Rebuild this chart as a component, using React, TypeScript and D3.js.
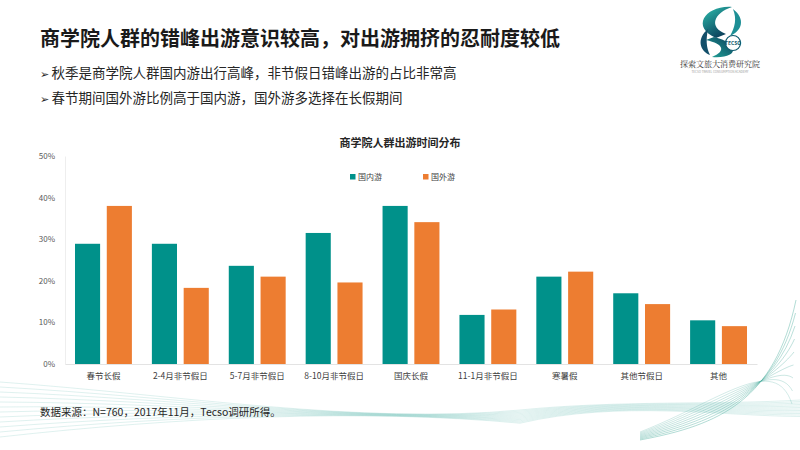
import { useEffect, useRef } from 'react'
import * as d3 from 'd3'

const W = 800, H = 450
const M = { top: 156, right: 43, bottom: 86, left: 65 }

const categories = ['春节长假', '2-4月非节假日', '5-7月非节假日', '8-10月非节假日', '国庆长假', '11-1月非节假日', '寒暑假', '其他节假日', '其他']
const domestic = [28.9, 28.9, 23.6, 31.5, 38.0, 11.8, 21.0, 17.0, 10.5]
const abroad = [38.0, 18.3, 21.0, 19.6, 34.1, 13.1, 22.2, 14.4, 9.1]
const seriesNames = ['国内游', '国外游']
const seriesColors = ['#00918a', '#ed7d31']
const yTicks = [0, 10, 20, 30, 40, 50]

const title = '商学院人群的错峰出游意识较高，对出游拥挤的忍耐度较低'
const bullets = ['秋季是商学院人群国内游出行高峰，非节假日错峰出游的占比非常高', '春节期间国外游比例高于国内游，国外游多选择在长假期间']
const chartTitle = '商学院人群出游时间分布'
const source = '数据来源：N=760，2017年11月，Tecso调研所得。'

const FONT = '"Noto Sans CJK SC", "Noto Sans", sans-serif'

export default function App() {
  const svgRef = useRef<SVGSVGElement>(null)

  useEffect(() => {
    const svg = d3.select(svgRef.current!)
    svg.selectAll('*').remove()

    svg.append('rect').attr('width', W).attr('height', H).attr('fill', '#fff')

    // decorative lines, bottom left wave
    const deco = svg.append('g').attr('fill', 'none')
    for (let i = 0; i < 12; i++) {
      const p = d3.path()
      const y0 = 382 + i * 5
      p.moveTo(0, y0)
      p.bezierCurveTo(180, 395 + i * 2, 360, 425 - i * 1.5, 520, 410 + i * 1.2)
      p.bezierCurveTo(620, 400, 720, 405 + i, 800, 400 + i * 1.5)
      deco.append('path').attr('d', p.toString())
        .attr('stroke', '#7cc5bd').attr('stroke-opacity', 0.35).attr('stroke-width', 0.7)
    }
    // right corner arcs
    for (let i = 0; i < 9; i++) {
      const p = d3.path()
      p.moveTo(640, 440 - i * 1)
      p.bezierCurveTo(720, 425 - i * 3, 775, 400 - i * 6, 796 - i * 0.5, 300 + i * 13)
      deco.append('path').attr('d', p.toString())
        .attr('stroke', '#4fae9f').attr('stroke-opacity', 0.55 - i * 0.03).attr('stroke-width', 0.8)
    }

    // header
    svg.append('text').attr('x', 40).attr('y', 46)
      .attr('font-family', FONT).attr('font-size', 20).attr('font-weight', 700)
      .attr('fill', '#1a1a1a').text(title)
    bullets.forEach((b, i) => {
      const t = svg.append('text').attr('x', 40).attr('y', 78 + i * 25)
        .attr('font-family', FONT).attr('font-size', 13.5).attr('fill', '#262626')
      t.append('tspan').attr('font-size', 11).text('➢ ')
      t.append('tspan').text(b)
    })

    // logo
    const defs = svg.append('defs')
    const grad = defs.append('linearGradient').attr('id', 'lg')
      .attr('x1', 0).attr('y1', 0).attr('x2', 0.6).attr('y2', 1)
    grad.append('stop').attr('offset', '0%').attr('stop-color', '#2dbfae')
    grad.append('stop').attr('offset', '100%').attr('stop-color', '#0b3d5a')
    const grad2 = defs.append('linearGradient').attr('id', 'lg2')
      .attr('x1', 1).attr('y1', 0).attr('x2', 0).attr('y2', 1)
    grad2.append('stop').attr('offset', '0%').attr('stop-color', '#0b3d5a')
    grad2.append('stop').attr('offset', '100%').attr('stop-color', '#22a99c')
    const logo = svg.append('g').attr('transform', 'translate(720,31)')
    logo.append('path')
      .attr('d', 'M12,-24 C-14,-26 -30,-4 -4,7 L6,3 C-12,-4 -6,-18 12,-24 Z')
      .attr('fill', 'url(#lg)')
    logo.append('path')
      .attr('d', 'M-6,6 C20,12 20,28 -8,26 C6,20 4,13 -14,9 Z')
      .attr('fill', 'url(#lg2)')
    logo.append('path')
      .attr('d', 'M13,-22 C26,-12 22,0 10,5 C15,-4 17,-12 13,-22 Z')
      .attr('fill', '#1d8f95')
    logo.append('path')
      .attr('d', 'M-12,-2 C-24,8 -20,20 -10,24 C-14,16 -14,8 -12,-2 Z')
      .attr('fill', '#134f6a')
    logo.append('circle').attr('cx', 13).attr('cy', 12).attr('r', 7.5).attr('fill', '#fff')
      .attr('stroke', '#0e5a6e').attr('stroke-width', 1.2)
    logo.append('text').attr('x', 13).attr('y', 14).attr('text-anchor', 'middle')
      .attr('font-family', FONT).attr('font-size', 5).attr('font-weight', 700).attr('fill', '#0e5a6e').text('TECSO')
    svg.append('text').attr('x', 720).attr('y', 67).attr('text-anchor', 'middle')
      .attr('font-family', '"Noto Serif CJK SC", "Noto Sans CJK SC", serif').attr('font-size', 8)
      .attr('fill', '#333').text('探索文旅大消费研究院')
    svg.append('text').attr('x', 720).attr('y', 73).attr('text-anchor', 'middle')
      .attr('font-family', FONT).attr('font-size', 3).attr('fill', '#999')
      .text('TECSO TRAVEL CONSUMPTION ACADEMY')

    // chart
    const iw = W - M.left - M.right
    const ih = H - M.top - M.bottom
    const g = svg.append('g').attr('transform', `translate(${M.left},${M.top})`)

    const x0 = d3.scaleBand<string>().domain(categories).range([0, iw]).paddingInner(0.26).paddingOuter(0.13)
    const x1 = d3.scaleBand<string>().domain(seriesNames).range([0, x0.bandwidth()]).paddingInner(0.21)
    const y = d3.scaleLinear().domain([0, 50]).range([ih, 0])

    svg.append('text').attr('x', 400).attr('y', M.top - 9)
      .attr('text-anchor', 'middle').attr('font-family', FONT).attr('font-size', 11)
      .attr('font-weight', 700).attr('fill', '#262626').text(chartTitle)

    g.append('g').call(d3.axisLeft(y).tickValues(yTicks).tickSize(0).tickPadding(10).tickFormat(d => `${d}%`))
      .call(s => s.select('.domain').attr('stroke', '#eeeeee'))
      .call(s => s.selectAll('.tick text').attr('font-family', FONT).attr('font-size', 8).attr('fill', '#595959'))

    g.append('g').attr('transform', `translate(0,${ih})`)
      .call(d3.axisBottom(x0).tickSize(0).tickPadding(9))
      .call(s => s.select('.domain').attr('stroke', '#e3e3e3'))
      .call(s => s.selectAll('.tick text').attr('font-family', FONT).attr('font-size', 8.5).attr('fill', '#404040'))

    const values = [domestic, abroad]
    const groups = g.append('g').selectAll('g').data(categories).join('g')
      .attr('transform', c => `translate(${x0(c)},0)`)
    groups.selectAll('rect').data((_, i) => values.map((v, k) => ({ k, v: v[i] }))).join('rect')
      .attr('x', d => x1(seriesNames[d.k])!)
      .attr('width', x1.bandwidth())
      .attr('y', d => y(d.v))
      .attr('height', d => ih - y(d.v))
      .attr('fill', d => seriesColors[d.k])

    // legend
    const lgX = [350, 423]
    seriesNames.forEach((n, i) => {
      svg.append('rect').attr('x', lgX[i]).attr('y', 174).attr('width', 5.5).attr('height', 5.5).attr('fill', seriesColors[i])
      svg.append('text').attr('x', lgX[i] + 8).attr('y', 180).attr('font-family', FONT)
        .attr('font-size', 8).attr('fill', '#404040').text(n)
    })

    svg.append('text').attr('x', 40).attr('y', 416).attr('font-family', FONT).attr('font-size', 10.5)
      .attr('fill', '#262626').text(source)
  }, [])

  return <svg ref={svgRef} width={W} height={H} style={{ position: 'absolute', left: 0, top: 0 }} viewBox={`0 0 ${W} ${H}`} />
}
